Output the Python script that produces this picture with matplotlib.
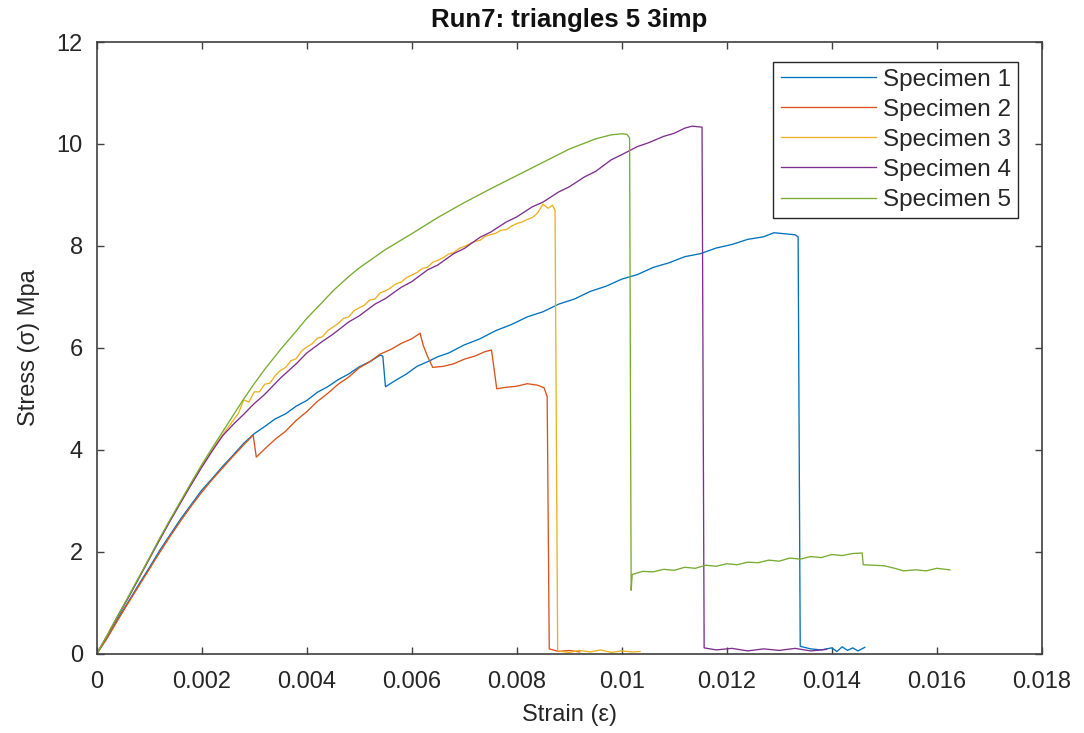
import matplotlib
matplotlib.use("Agg")

import matplotlib.pyplot as plt
from matplotlib.ticker import FuncFormatter

# Specimen 1 (blue)
s1_strain = [0, 0.0002, 0.0004, 0.0006, 0.0008, 0.0010, 0.0012, 0.0014, 0.0016, 0.0018,
             0.0020, 0.0022, 0.0024, 0.0026, 0.0028, 0.0030, 0.0032, 0.0034, 0.0036, 0.0038,
             0.0040, 0.0042, 0.0044, 0.0046, 0.0048, 0.0050, 0.0052, 0.0054, 0.00545, 0.0055,
             0.0057, 0.0059, 0.0061, 0.0063, 0.0065, 0.0067, 0.0070, 0.0073, 0.0076, 0.0079,
             0.0082, 0.0085, 0.0088, 0.0091, 0.0094, 0.0097, 0.0100, 0.0103, 0.0106, 0.0109,
             0.0112, 0.0115, 0.0118, 0.0121, 0.0124, 0.0127, 0.0129, 0.0131, 0.0133, 0.01336,
             0.01340, 0.0136, 0.0138, 0.0140, 0.0141, 0.0142, 0.0143, 0.0144, 0.0145, 0.01463]
s1_stress = [0, 0.33, 0.69, 1.02, 1.36, 1.69, 2.03, 2.34, 2.65, 2.93,
             3.21, 3.44, 3.68, 3.90, 4.13, 4.32, 4.46, 4.61, 4.71, 4.86,
             4.97, 5.13, 5.24, 5.38, 5.49, 5.63, 5.73, 5.86, 5.84, 5.24,
             5.37, 5.49, 5.64, 5.73, 5.83, 5.90, 6.06, 6.18, 6.34, 6.46,
             6.61, 6.71, 6.86, 6.96, 7.11, 7.21, 7.35, 7.44, 7.58, 7.67,
             7.79, 7.85, 7.96, 8.03, 8.13, 8.18, 8.26, 8.24, 8.22, 8.18,
             0.15, 0.10, 0.08, 0.12, 0.05, 0.14, 0.07, 0.12, 0.06, 0.13]

# Specimen 2 (orange-red)
s2_strain = [0, 0.0002, 0.0004, 0.0006, 0.0008, 0.0010, 0.0012, 0.0014, 0.0016, 0.0018,
             0.0020, 0.0022, 0.0024, 0.0026, 0.0028, 0.00298, 0.00304, 0.0032, 0.0034, 0.0036,
             0.0038, 0.0040, 0.0042, 0.0044, 0.0046, 0.0048, 0.0050, 0.0052, 0.0054, 0.0056,
             0.0058, 0.0060, 0.00616, 0.00622, 0.00630, 0.00640, 0.0066, 0.0068, 0.0070, 0.0072,
             0.0074, 0.00752, 0.00762, 0.0078, 0.0080, 0.0082, 0.0084, 0.00852, 0.00858, 0.00862,
             0.0088, 0.0090, 0.0092]
s2_stress = [0, 0.31, 0.66, 1.00, 1.33, 1.66, 1.99, 2.31, 2.61, 2.90,
             3.17, 3.42, 3.65, 3.88, 4.10, 4.29, 3.86, 4.02, 4.21, 4.37,
             4.58, 4.75, 4.95, 5.11, 5.29, 5.43, 5.61, 5.73, 5.88, 5.97,
             6.09, 6.18, 6.29, 6.05, 5.84, 5.62, 5.64, 5.69, 5.78, 5.84,
             5.93, 5.96, 5.20, 5.23, 5.25, 5.30, 5.27, 5.22, 5.05, 0.10,
             0.05, 0.07, 0.04]

# Specimen 3 (yellow), noisy section sampled every 0.0001
s3_strain = [0, 0.0002, 0.0004, 0.0006, 0.0008, 0.0010, 0.0012, 0.0014, 0.0016, 0.0018,
             0.0020, 0.0022, 0.0024, 0.0026, 0.0027,
             0.0028, 0.0029, 0.0030, 0.0031, 0.0032, 0.0033, 0.0034, 0.0035, 0.0036, 0.0037,
             0.0038, 0.0039, 0.0040, 0.0041, 0.0042, 0.0043, 0.0044, 0.0045, 0.0046, 0.0047,
             0.0048, 0.0049, 0.0050, 0.0051, 0.0052, 0.0053, 0.0054, 0.0055, 0.0056, 0.0057,
             0.0058, 0.0059, 0.0060, 0.0061, 0.0062, 0.0063, 0.0064, 0.0065, 0.0066, 0.0067,
             0.0068, 0.0069, 0.0070, 0.0071, 0.0072, 0.0073, 0.0074, 0.0075, 0.0076, 0.0077,
             0.0078, 0.0079, 0.0080, 0.0081, 0.0082, 0.0083, 0.0084, 0.0085, 0.0086, 0.00868,
             0.00873, 0.00878, 0.0090, 0.0092, 0.0094, 0.0096, 0.0098, 0.0100, 0.0102, 0.01035]
s3_stress = [0, 0.36, 0.74, 1.11, 1.48, 1.87, 2.25, 2.62, 2.97, 3.33,
             3.68, 4.00, 4.30, 4.58, 4.72,
             4.98, 4.94, 5.14, 5.14, 5.29, 5.31, 5.46, 5.56, 5.62, 5.75,
             5.79, 5.94, 6.02, 6.08, 6.19, 6.22, 6.34, 6.41, 6.48, 6.58,
             6.61, 6.73, 6.79, 6.84, 6.94, 6.96, 7.08, 7.12, 7.18, 7.26,
             7.29, 7.38, 7.43, 7.48, 7.56, 7.58, 7.68, 7.72, 7.77, 7.84,
             7.87, 7.95, 7.99, 8.04, 8.09, 8.11, 8.19, 8.22, 8.25, 8.31,
             8.32, 8.39, 8.44, 8.47, 8.52, 8.56, 8.65, 8.82, 8.74, 8.80,
             8.70, 0.06, 0.03, 0.07, 0.04, 0.08, 0.03, 0.06, 0.04, 0.05]

# Specimen 4 (purple)
s4_strain = [0, 0.0002, 0.0004, 0.0006, 0.0008, 0.0010, 0.0012, 0.0014, 0.0016, 0.0018,
             0.0020, 0.0022, 0.0024, 0.0026, 0.0028, 0.0030, 0.0032, 0.0035, 0.0038, 0.0040,
             0.0043, 0.0045, 0.0048, 0.0050, 0.0053, 0.0055, 0.0058, 0.0060, 0.0063, 0.0065,
             0.0068, 0.0070, 0.0073, 0.0075, 0.0078, 0.0080, 0.0083, 0.0085, 0.0088, 0.0090,
             0.0093, 0.0095, 0.0098, 0.0100, 0.0103, 0.0105, 0.0108, 0.0110, 0.0112, 0.01134,
             0.01153, 0.01157, 0.0118, 0.0121, 0.0124, 0.0127, 0.0130, 0.0133, 0.0136, 0.0139]
s4_stress = [0, 0.36, 0.74, 1.10, 1.48, 1.86, 2.24, 2.61, 2.97, 3.32,
             3.66, 3.98, 4.28, 4.50, 4.70, 4.91, 5.09, 5.41, 5.69, 5.90,
             6.13, 6.27, 6.51, 6.63, 6.86, 6.97, 7.19, 7.30, 7.53, 7.63,
             7.85, 7.95, 8.17, 8.27, 8.47, 8.57, 8.77, 8.86, 9.06, 9.16,
             9.36, 9.46, 9.69, 9.79, 9.95, 10.02, 10.15, 10.21, 10.31, 10.35,
             10.33, 0.12, 0.08, 0.11, 0.06, 0.10, 0.07, 0.11, 0.06, 0.09]

# Specimen 5 (green)
s5_strain = [0, 0.0002, 0.0004, 0.0006, 0.0008, 0.0010, 0.0012, 0.0014, 0.0016, 0.0018,
             0.0020, 0.0022, 0.0024, 0.0026, 0.0028, 0.0030, 0.0032, 0.0035, 0.0038, 0.0040,
             0.0043, 0.0045, 0.0048, 0.0050, 0.0055, 0.0060, 0.0065, 0.0070, 0.0075, 0.0080,
             0.0085, 0.0090, 0.0095, 0.0098, 0.0100, 0.0101, 0.01015, 0.01018, 0.0102, 0.0104,
             0.0106, 0.0108, 0.0110, 0.0112, 0.0114, 0.0116, 0.0118, 0.0120, 0.0122, 0.0124,
             0.0126, 0.0128, 0.0130, 0.0132, 0.0134, 0.0136, 0.0138, 0.0140, 0.0142, 0.0144,
             0.01458, 0.0146, 0.0148, 0.0150, 0.0152, 0.01537, 0.0156, 0.0158, 0.0160, 0.01625]
s5_stress = [0, 0.37, 0.75, 1.12, 1.50, 1.88, 2.27, 2.64, 3.00, 3.36,
             3.71, 4.04, 4.36, 4.68, 5.00, 5.30, 5.58, 5.97, 6.33, 6.58,
             6.90, 7.12, 7.40, 7.57, 7.93, 8.24, 8.56, 8.85, 9.12, 9.38,
             9.64, 9.90, 10.10, 10.18, 10.20, 10.19, 10.12, 1.25, 1.56, 1.62,
             1.61, 1.66, 1.64, 1.70, 1.68, 1.74, 1.72, 1.77, 1.75, 1.80,
             1.79, 1.84, 1.82, 1.88, 1.86, 1.91, 1.89, 1.95, 1.93, 1.97,
             1.98, 1.75, 1.74, 1.73, 1.68, 1.63, 1.65, 1.63, 1.68, 1.65]

series = [
    ("Specimen 1", s1_strain, s1_stress, "#0072BD"),
    ("Specimen 2", s2_strain, s2_stress, "#D95319"),
    ("Specimen 3", s3_strain, s3_stress, "#EDB120"),
    ("Specimen 4", s4_strain, s4_stress, "#7E2F8E"),
    ("Specimen 5", s5_strain, s5_stress, "#77AC30"),
]

plt.rcParams["font.family"] = ["Liberation Sans", "DejaVu Sans"]
text_color = "#262626"

fig = plt.figure(figsize=(10.84, 7.33), dpi=100)
ax = fig.add_axes([0.0892, 0.1078, 0.8718, 0.8349])

for label, x, y, color in series:
    ax.plot(x, y, color=color, linewidth=0.95, label=label)

ax.set_xlim(0, 0.018)
ax.set_ylim(0, 12)
ax.set_xticks([i * 0.002 for i in range(10)])
ax.set_yticks(range(0, 13, 2))
ax.xaxis.set_major_formatter(FuncFormatter(lambda v, p: "%g" % round(v, 4)))

ax.tick_params(direction="in", top=True, right=True, length=5, width=1,
               labelsize=17, colors="#404040", labelcolor=text_color)
ax.tick_params(axis="x", pad=12)
ax.tick_params(axis="y", pad=10)
for sp in ax.spines.values():
    sp.set_color("#404040")
    sp.set_linewidth(1.2)

ax.set_xlabel("Strain (ε)", fontsize=17, color=text_color, labelpad=8)
ax.set_ylabel("Stress (σ) Mpa", fontsize=17, color=text_color, labelpad=12)
ax.set_title("Run7: triangles 5 3imp", fontsize=18.5, fontweight="bold",
             color="#111111", pad=11)

leg = ax.legend(loc="upper right", bbox_to_anchor=(0.975, 0.968), borderaxespad=0,
                fontsize=17.5, fancybox=False, framealpha=1, edgecolor="#262626",
                handlelength=3.9, handletextpad=0.3, labelspacing=0.33, borderpad=0.3)
leg.get_frame().set_linewidth(1.0)
for t in leg.get_texts():
    t.set_color(text_color)

fig.savefig("out.png", dpi=100)
